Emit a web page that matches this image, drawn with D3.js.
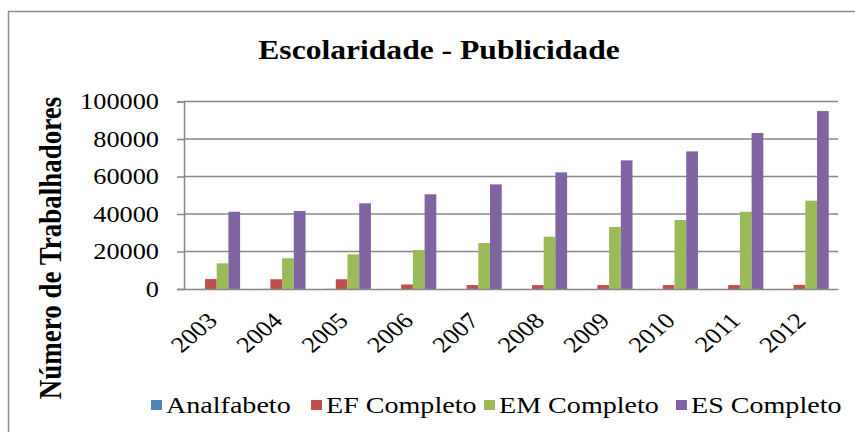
<!DOCTYPE html>
<html><head><meta charset="utf-8">
<script src="https://cdn.jsdelivr.net/npm/d3@7"></script>
<style>body{margin:0;background:#fff}svg{display:block}</style>
</head><body>
<script>
const years = ["2003","2004","2005","2006","2007","2008","2009","2010","2011","2012"];
const seriesNames = ["Analfabeto","EF Completo","EM Completo","ES Completo"];
const analfabeto = [60,60,60,40,40,40,40,40,40,40];
const efCompleto = [5300,5200,5200,2400,2100,2100,2100,2100,2100,2200];
const emCompleto = [13700,16400,18500,20800,24500,27900,33100,36800,41200,47100];
const esCompleto = [41200,41600,45700,50500,55800,62200,68600,73400,83200,94900];
const yTicks = [0,20000,40000,60000,80000,100000];
const colors = ["#4F81BD","#C0504D","#9BBB59","#8064A2"];
const values = [analfabeto, efCompleto, emCompleto, esCompleto];

(function(){
const W = 855, H = 432;
const SX = 1.17; // horizontal stretch of the text in the reference
const svg = d3.select("body").append("svg").attr("width", W).attr("height", H);
svg.append("rect").attr("x",8.5).attr("y",11.5).attr("width",W).attr("height",H)
  .attr("fill","#fff").attr("stroke","#8c8c8c").attr("stroke-width",1.5);

const pLeft = 184, pRight = 838, pTop = 101.5, pBottom = 289;
const x = d3.scaleBand().domain(years).range([pLeft,pRight]).paddingInner(0.284).paddingOuter(0.142);
const xs = d3.scaleBand().domain(seriesNames).range([0, x.bandwidth()]);
const y = d3.scaleLinear().domain([0,100000]).range([pBottom, pTop]);

const font = "'Liberation Serif','Times New Roman',serif";

svg.append("g").selectAll("line").data(yTicks.filter(d=>d>0)).join("line")
  .attr("x1", pLeft).attr("x2", pRight).attr("y1", d=>y(d)).attr("y2", d=>y(d))
  .attr("stroke","#878787").attr("stroke-width",1.5);

const yAxis = d3.axisLeft(y).tickValues(yTicks).tickSize(7).tickPadding(16).tickFormat(d3.format("d"));
const gy = svg.append("g").attr("transform",`translate(${pLeft},0)`).call(yAxis);
gy.select(".domain").attr("stroke","#878787").attr("stroke-width",1.5);
gy.selectAll(".tick line").attr("stroke","#878787").attr("stroke-width",1.5);
gy.selectAll("text").attr("font-family",font).attr("font-size",22.5).attr("fill","#000")
  .attr("x",0).attr("transform",`translate(-25,0) scale(${SX},1)`);

const groups = svg.append("g").selectAll("g").data(years).join("g")
  .attr("transform", d=>`translate(${x(d)},0)`);
groups.selectAll("rect").data((d,i)=>seriesNames.map((s,j)=>({s, v: values[j][i], c: colors[j]})))
  .join("rect")
  .attr("x", d=>xs(d.s)).attr("width", xs.bandwidth())
  .attr("y", d=>y(d.v)).attr("height", d=>pBottom - y(d.v))
  .attr("fill", d=>d.c);

const xAxis = d3.axisBottom(x).tickSize(0).tickPadding(0);
const gx = svg.append("g").attr("transform",`translate(0,${pBottom})`).call(xAxis);
gx.select(".domain").attr("stroke","#878787").attr("stroke-width",1.5);
gx.selectAll("text").attr("font-family",font).attr("font-size",22.5).attr("fill","#000")
  .attr("text-anchor","end").attr("dy",0).attr("y",0).attr("x",0)
  .attr("transform", `translate(2,33) scale(${SX},1) rotate(-45)`);

svg.append("text").attr("text-anchor","middle")
  .attr("transform",`translate(439,59) scale(${SX},1)`)
  .attr("font-family",font).attr("font-weight","bold").attr("font-size",27)
  .text("Escolaridade - Publicidade");

svg.append("text").attr("transform",`translate(61,248) rotate(-90) scale(1,${SX})`).attr("text-anchor","middle")
  .attr("font-family",font).attr("font-weight","bold").attr("font-size",27)
  .text("Número de Trabalhadores");

const legX = [151, 311, 484, 676];
const leg = svg.append("g").selectAll("g").data(seriesNames).join("g")
  .attr("transform",(d,i)=>`translate(${legX[i]},405)`);
leg.append("rect").attr("x",0).attr("y",-5).attr("width",11).attr("height",10).attr("fill",(d,i)=>colors[i]);
leg.append("text").attr("transform",`translate(15,8) scale(${SX},1)`).attr("font-family",font).attr("font-size",24)
  .text(d=>d);
})();
</script>
</body></html>
